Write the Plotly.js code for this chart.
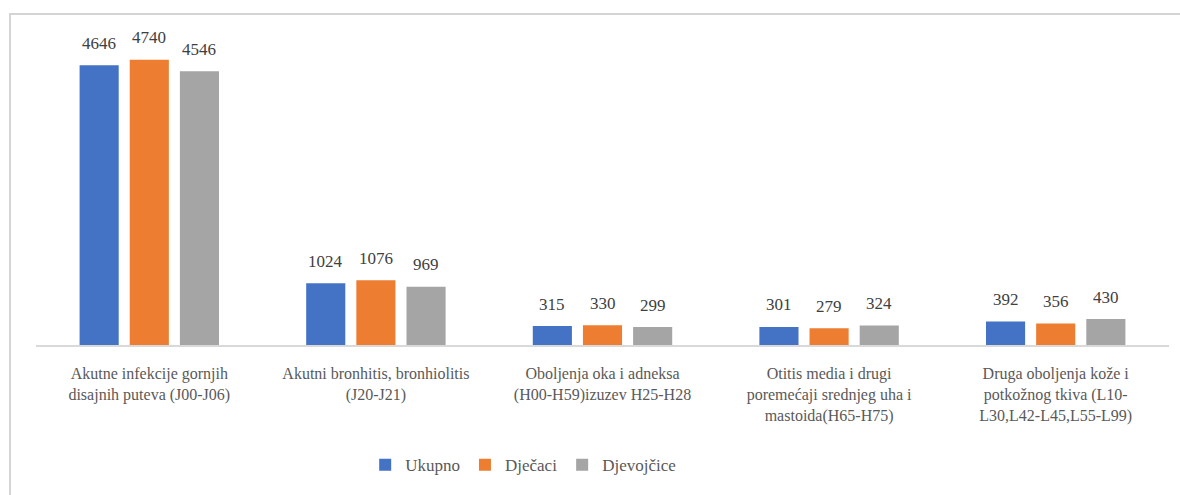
<!DOCTYPE html>
<html>
<head>
<meta charset="utf-8">
<script src="https://cdn.plot.ly/plotly-3.0.1.min.js"></script>
<style>
  html, body { margin: 0; padding: 0; background: #ffffff; font-family: 'Liberation Serif', serif; }
  #wrap { position: relative; width: 1180px; height: 495px; overflow: hidden; }
  #frame { position: absolute; left: 9px; top: 13px; width: 1200px; height: 500px;
           border-left: 2px solid #d4d4d4; border-top: 2px solid #d4d4d4; box-sizing: border-box; }
  #chart { position: absolute; left: 0; top: 0; width: 1180px; height: 495px; }
  #chart svg text { font-family: 'Liberation Serif', serif !important; }
</style>
</head>
<body>
<div id="wrap">
  <div id="frame"></div>
  <div id="chart"></div>
</div>
<script>
const categories = [
  "Akutne infekcije gornjih<br>disajnih puteva (J00-J06)",
  "Akutni bronhitis, bronhiolitis<br>(J20-J21)",
  "Oboljenja oka i adneksa<br>(H00-H59)izuzev H25-H28",
  "Otitis media i drugi<br>poremećaji srednjeg uha i<br>mastoida(H65-H75)",
  "Druga oboljenja kože i<br>potkožnog tkiva (L10-<br>L30,L42-L45,L55-L99)"
];
const seriesNames = ["Ukupno", "Dječaci", "Djevojčice"];
const ukupno = [4646, 1024, 315, 301, 392];
const djecaci = [4740, 1076, 330, 279, 356];
const djevojcice = [4546, 969, 299, 324, 430];
const colors = ["#4472C4", "#ED7D31", "#A5A5A5"];

const FONT = "Liberation Serif";
const seriesValues = [ukupno, djecaci, djevojcice];
const bargap = 0.336;
const xIdx = categories.map((c, i) => i);

const traces = seriesValues.map((vals, s) => ({
  type: "bar",
  name: seriesNames[s],
  x: xIdx,
  y: vals,
  marker: { color: colors[s] },
  hoverinfo: "y+name"
}));

const barW = (1 - bargap) / 3;
const annotations = [];
seriesValues.forEach((vals, s) => {
  vals.forEach((v, i) => {
    annotations.push({
      x: i + (s - 1) * barW,
      y: v,
      xref: "x", yref: "y",
      text: String(v),
      showarrow: false,
      yanchor: "middle",
      yshift: 22,
      font: { family: FONT, size: 17, color: "#404040" }
    });
  });
});

const layout = {
  width: 1180,
  height: 495,
  margin: { l: 36, r: 11, t: 44, b: 150 },
  paper_bgcolor: "rgba(0,0,0,0)",
  plot_bgcolor: "rgba(0,0,0,0)",
  barmode: "group",
  bargap: bargap,
  bargroupgap: 0.22,
  showlegend: true,
  font: { family: FONT },
  legend: {
    orientation: "h",
    x: 0.43, xanchor: "center",
    y: -0.399, yanchor: "middle",
    font: { family: FONT, size: 17, color: "#595959" },
    itemwidth: 30
  },
  xaxis: {
    type: "linear",
    range: [-0.5, categories.length - 0.5],
    tickmode: "array",
    tickvals: xIdx,
    ticktext: categories,
    showgrid: false,
    zeroline: false,
    showline: true,
    linecolor: "#d9d9d9",
    linewidth: 2,
    ticks: "",
    ticklabelstandoff: 13,
    tickfont: { family: FONT, size: 16, color: "#595959" }
  },
  yaxis: {
    range: [0, 5000],
    visible: false,
    showgrid: false,
    zeroline: false
  },
  annotations: annotations
};

Plotly.newPlot("chart", traces, layout, { displayModeBar: false }).then(function (gd) {
  gd.querySelectorAll("svg text").forEach(function (t) {
    t.style.setProperty("font-family", "'Liberation Serif', serif", "important");
  });
});
</script>
</body>
</html>
